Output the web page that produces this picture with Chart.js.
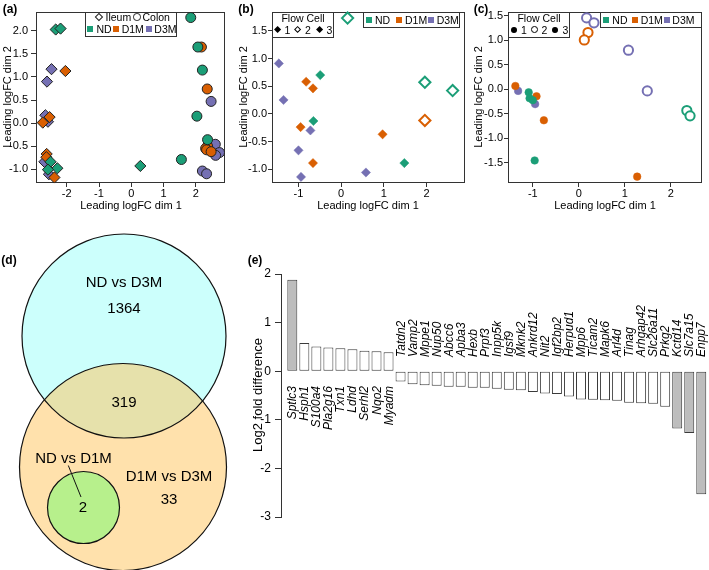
<!DOCTYPE html>
<html><head><meta charset="utf-8">
<script src="https://cdn.jsdelivr.net/npm/chart.js@4.4.1/dist/chart.umd.min.js"></script>
<style>
body{margin:0;background:#fff;width:709px;height:570px;position:relative;overflow:hidden;font-family:"Liberation Sans",Arial,sans-serif;color:#000}
canvas{position:absolute}
</style></head><body>
<canvas id="ca" width="235" height="215" style="left:0;top:0"></canvas>
<canvas id="cb" width="235" height="215" style="left:235px;top:0"></canvas>
<canvas id="cc" width="239" height="215" style="left:470px;top:0"></canvas>
<canvas id="cd" width="250" height="345" style="left:0;top:225px"></canvas>
<canvas id="ce" width="459" height="310" style="left:250px;top:260px"></canvas>
<script>
// ---------------- DATA ----------------
const GROUPS = ['ND', 'D1M', 'D3M'];
const TISSUES = ['Ileum', 'Colon'];
const FLOW_CELLS = ['1', '2', '3'];
const AXIS_X_TITLE = 'Leading logFC dim 1';
const AXIS_Y_TITLE = 'Leading logFC dim 2';

// (a) all samples: [dim1, dim2]
const A_ILEUM_ND  = [[-2.34,2.03],[-2.19,2.05],[0.28,-0.93],[-2.50,-0.84],[-2.29,-0.98],[-2.58,-1.01]];
const A_ILEUM_D1M = [[-2.04,1.13],[-2.53,0.13],[-2.74,0.01],[-2.62,-0.67],[-2.63,-0.74],[-2.38,-1.18]];
const A_ILEUM_D3M = [[-2.47,1.17],[-2.61,0.90],[-2.66,0.17],[-2.58,0.03],[-2.69,-0.84],[-2.55,-1.11]];
const A_COLON_ND  = [[1.84,2.29],[2.06,1.65],[2.20,1.15],[2.03,0.15],[2.36,-0.36],[1.55,-0.79]];
const A_COLON_D1M = [[2.17,1.65],[2.35,0.74],[2.36,-0.50],[2.30,-0.55],[2.33,-0.58],[2.47,-0.62]];
const A_COLON_D3M = [[2.47,0.47],[2.60,-0.46],[2.73,-0.64],[2.61,-0.70],[2.20,-1.04],[2.33,-1.10]];
const A_XTICKS = [-2,-1,0,1,2];          const A_XLABELS = ['-2','-1','0','1','2'];
const A_YTICKS = [-1,-0.5,0,0.5,1,1.5,2]; const A_YLABELS = ['-1.0','-0.5','0.0','0.5','1.0','1.5','2.0'];

// (b) ileum: filled = flow cells 1 & 3, open = flow cell 2
const B_ND_FILLED  = [[-0.49,0.70],[-0.65,-0.13],[1.48,-0.89]];
const B_ND_OPEN    = [[0.15,1.73],[1.96,0.57],[2.61,0.42]];
const B_D1M_FILLED = [[-0.82,0.58],[-0.66,0.46],[-0.95,-0.24],[0.97,-0.37],[-0.66,-0.89]];
const B_D1M_OPEN   = [[1.96,-0.12]];
const B_D3M_FILLED = [[-1.46,0.91],[-1.35,0.25],[-0.72,-0.30],[-1.00,-0.66],[0.58,-1.06],[-0.94,-1.14]];
const B_XTICKS = [-1,0,1,2];             const B_XLABELS = ['-1','0','1','2'];
const B_YTICKS = [-1,-0.5,0,0.5,1,1.5];  const B_YLABELS = ['-1.0','-0.5','0.0','0.5','1.0','1.5'];

// (c) colon
const C_ND_FILLED  = [[-1.09,-0.06],[-1.07,-0.18],[-1.00,-0.22],[-0.96,-1.45]];
const C_ND_OPEN    = [[2.35,-0.43],[2.42,-0.54]];
const C_D1M_FILLED = [[-1.38,0.07],[-0.92,-0.14],[-0.76,-0.63],[1.27,-1.78]];
const C_D1M_OPEN   = [[0.20,1.16],[0.12,1.01]];
const C_D3M_FILLED = [[-1.32,-0.03],[-0.95,-0.30]];
const C_D3M_OPEN   = [[0.17,1.46],[0.33,1.36],[1.08,0.80],[1.49,-0.03]];
const C_XTICKS = [-1,0,1,2];                 const C_XLABELS = ['-1','0','1','2'];
const C_YTICKS = [-1.5,-1,-0.5,0,0.5,1,1.5]; const C_YLABELS = ['-1.5','-1.0','-0.5','0.0','0.5','1.0','1.5'];

// (d) Venn
const VENN_SETS = ['ND vs D3M', 'D1M vs D3M', 'ND vs D1M'];
const VENN_COUNTS = { ndD3mOnly: '1364', shared: '319', d1mD3mOnly: '33', ndD1m: '2' };

// (e) bar chart
const GENES = ['Sptlc3','Hsph1','S100a4','Pla2g16','Txn1','Ldhd','Serhl2','Nqo2','Myadm','Tatdn2','Vamp2','Mppe1','Nup50','Abcc6','Apba3','Hexb','Prpf3','Inpp5k','Igsf9','Mknk2','Ankrd12','Nit2','Igf2bp2','Herpud1','Mpp6','Ticam2','Mapk6','Arl4d','Tinag','Arhgap42','Slc26a11','Prkg2','Kctd14','Slc7a15','Enpp7'];
const LOG2FC = [1.88,0.58,0.51,0.49,0.47,0.45,0.42,0.41,0.39,-0.21,-0.27,-0.29,-0.30,-0.32,-0.32,-0.34,-0.34,-0.36,-0.38,-0.39,-0.43,-0.46,-0.47,-0.52,-0.58,-0.59,-0.60,-0.61,-0.65,-0.66,-0.67,-0.73,-1.18,-1.27,-2.53];
const HIGHLIGHTED = ['Sptlc3','Kctd14','Slc7a15','Enpp7'];
const E_YTICKS = [-3,-2,-1,0,1,2]; const E_YLABELS = ['-3','-2','-1','0','1','2'];
const E_YTITLE = 'Log2 fold difference';

// ---------------- STYLE ----------------
const COL = { ND: '#1b9e77', D1M: '#d95f02', D3M: '#7570b3' };
const FONT = '"Liberation Sans", Arial, sans-serif';
Chart.defaults.font.family = FONT;
Chart.defaults.color = '#000';

function el(css, text) {
  const d = document.createElement('div');
  d.style.cssText = 'position:absolute;white-space:nowrap;line-height:1;' + css;
  if (text != null) d.textContent = text;
  document.body.appendChild(d); return d;
}
function label(x, y, t, s, extra = '') { return el(`left:${x}px;top:${y}px;font-size:${s}px;transform:translate(-50%,-50%);${extra}`, t); }
function labelL(x, y, t, s = 10.5, extra = '') { return el(`left:${x}px;top:${y}px;font-size:${s}px;transform:translate(0,-50%);${extra}`, t); }
function vlabel(x, y, t, s) { return el(`left:${x}px;top:${y}px;font-size:${s}px;transform:translate(-50%,-50%) rotate(-90deg);`, t); }
function box(x, y, w, h) { el(`left:${x}px;top:${y}px;width:${w}px;height:${h}px;border:1px solid #333;box-sizing:border-box;background:#fff`); }
function sq(cx, cy, s, c) { el(`left:${cx - s / 2}px;top:${cy - s / 2}px;width:${s}px;height:${s}px;background:${c}`); }
function diamond(cx, cy, s, fill, stroke, bw) { el(`left:${cx - s / 2}px;top:${cy - s / 2}px;width:${s}px;height:${s}px;background:${fill};border:${bw}px solid ${stroke};box-sizing:border-box;transform:rotate(45deg)`); }
function circ(cx, cy, d, fill, stroke, bw) { el(`left:${cx - d / 2}px;top:${cy - d / 2}px;width:${d}px;height:${d}px;background:${fill};border:${bw}px solid ${stroke};box-sizing:border-box;border-radius:50%`); }

const pts = arr => arr.map(([x, y]) => ({ x, y }));
const boxPlugin = {
  id: 'box',
  beforeDatasetsDraw(c) {
    const a = c.chartArea, ctx = c.ctx;
    ctx.save(); ctx.strokeStyle = '#333'; ctx.lineWidth = 1;
    ctx.strokeRect(Math.round(a.left) + 0.5, Math.round(a.top) + 0.5, Math.round(a.right - a.left) - 1, Math.round(a.bottom - a.top) - 1);
    ctx.restore();
  }
};

function scatter(id, datasets, xr, yr, xt, xl, yt, yl, pad) {
  return new Chart(document.getElementById(id), {
    type: 'scatter',
    data: { datasets },
    options: {
      responsive: false, animation: false, events: [],
      layout: { autoPadding: false, padding: { top: pad.top, right: pad.right, left: 0, bottom: 0 } },
      plugins: { legend: { display: false }, tooltip: { enabled: false } },
      scales: {
        x: {
          type: 'linear', min: xr[0], max: xr[1],
          afterFit: s => { s.height = pad.bottom; },
          afterBuildTicks: s => { s.ticks = xt.map(v => ({ value: v })); },
          ticks: { callback: (v, i) => xl[i], color: '#000', font: { size: 11 }, padding: 0, maxRotation: 0, autoSkip: false },
          grid: { drawOnChartArea: false, drawTicks: true, tickLength: 4, color: '#333' },
          border: { display: false }
        },
        y: {
          type: 'linear', min: yr[0], max: yr[1],
          afterFit: s => { s.width = pad.left; },
          afterBuildTicks: s => { s.ticks = yt.map(v => ({ value: v })); },
          ticks: { callback: (v, i) => yl[i], color: '#000', font: { size: 11 }, padding: pad.yPad, autoSkip: false },
          grid: { drawOnChartArea: false, drawTicks: true, tickLength: pad.yTick, color: '#333' },
          border: { display: false }
        }
      }
    },
    plugins: [boxPlugin]
  });
}

// ---------------- (a) ----------------
const dsA = [];
[['ND', A_ILEUM_ND, A_COLON_ND], ['D1M', A_ILEUM_D1M, A_COLON_D1M], ['D3M', A_ILEUM_D3M, A_COLON_D3M]].forEach(([g, il, co]) => {
  dsA.push({ data: pts(il), pointStyle: 'rectRot', pointRadius: 5.6, backgroundColor: COL[g], borderColor: '#222', borderWidth: 1, clip: false });
  dsA.push({ data: pts(co), pointStyle: 'circle', pointRadius: 5, backgroundColor: COL[g], borderColor: '#222', borderWidth: 1, clip: false });
});
scatter('ca', dsA, [-2.95, 2.9], [-1.3, 2.41], A_XTICKS, A_XLABELS, A_YTICKS, A_YLABELS, { left: 36, right: 10, top: 12, bottom: 32, yTick: 5, yPad: 3 });

// ---------------- (b) ----------------
const dsB = [];
[['ND', B_ND_FILLED, B_ND_OPEN], ['D1M', B_D1M_FILLED, B_D1M_OPEN], ['D3M', B_D3M_FILLED, []]].forEach(([g, f, o]) => {
  dsB.push({ data: pts(f), pointStyle: 'rectRot', pointRadius: 4.6, backgroundColor: COL[g], borderColor: COL[g], borderWidth: 0.5, clip: false });
  dsB.push({ data: pts(o), pointStyle: 'rectRot', pointRadius: 5.6, backgroundColor: '#fff', borderColor: COL[g], borderWidth: 2, clip: false });
});
scatter('cb', dsB, [-1.62, 2.9], [-1.25, 1.84], B_XTICKS, B_XLABELS, B_YTICKS, B_YLABELS, { left: 37, right: 5, top: 12, bottom: 32, yTick: 4, yPad: 1 });

// ---------------- (c) ----------------
const dsC = [];
[['ND', C_ND_FILLED, C_ND_OPEN], ['D1M', C_D1M_FILLED, C_D1M_OPEN], ['D3M', C_D3M_FILLED, C_D3M_OPEN]].forEach(([g, f, o]) => {
  dsC.push({ data: pts(f), pointStyle: 'circle', pointRadius: 3.8, backgroundColor: COL[g], borderColor: COL[g], borderWidth: 0.5, clip: false });
  dsC.push({ data: pts(o), pointStyle: 'circle', pointRadius: 4.6, backgroundColor: '#fff', borderColor: COL[g], borderWidth: 2, clip: false });
});
scatter('cc', dsC, [-1.54, 2.68], [-1.91, 1.58], C_XTICKS, C_XLABELS, C_YTICKS, C_YLABELS, { left: 38, right: 7, top: 12, bottom: 32, yTick: 4, yPad: 1 });

// axis titles & panel letters
[[131, 97, 7], [368, 97, 243], [605, 97, 478]].forEach(([cx, cy, yx]) => {
  label(cx, 205, AXIS_X_TITLE, 11);
  vlabel(yx, cy, AXIS_Y_TITLE, 11);
});
label(10, 9, '(a)', 12, 'font-weight:bold');
label(246, 9, '(b)', 12, 'font-weight:bold');
label(481, 9, '(c)', 12, 'font-weight:bold');
label(9, 260, '(d)', 12, 'font-weight:bold');
label(255, 260, '(e)', 12, 'font-weight:bold');

// legends (a)
box(85, 12, 92, 25);
diamond(99, 17.2, 5.9, '#fff', '#222', 1.3); labelL(105.5, 17.2, TISSUES[0]);
circ(137, 17.2, 7.5, '#fff', '#222', 1.3); labelL(142.5, 17.2, TISSUES[1]);
sq(90, 28.7, 6, COL.ND);  labelL(96.5, 28.7, GROUPS[0]);
sq(115.7, 28.7, 6, COL.D1M); labelL(121.7, 28.7, GROUPS[1]);
sq(148.7, 28.7, 6, COL.D3M); labelL(154.3, 28.7, GROUPS[2]);
// legends (b)
box(272, 12, 62, 26);
label(303, 17.5, 'Flow Cell', 10.5);
diamond(278, 29.8, 5.2, '#000', '#000', 0); labelL(284.5, 29.8, FLOW_CELLS[0]);
diamond(298, 29.8, 5.2, '#fff', '#000', 1.5); labelL(305, 29.8, FLOW_CELLS[1]);
diamond(319.7, 29.8, 5.2, '#000', '#000', 0); labelL(326.5, 29.8, FLOW_CELLS[2]);
box(363, 12, 97, 16);
sq(369, 20, 5.7, COL.ND);  labelL(375, 20, GROUPS[0]);
sq(399.2, 20, 5.7, COL.D1M); labelL(405, 20, GROUPS[1]);
sq(431, 20, 5.7, COL.D3M); labelL(436.7, 20, GROUPS[2]);
// legends (c)
box(508, 12, 62, 26);
label(539, 17.5, 'Flow Cell', 10.5);
circ(514, 29.8, 5.8, '#000', '#000', 0); labelL(521, 29.8, FLOW_CELLS[0]);
circ(534.3, 29.8, 6.8, '#fff', '#000', 1.5); labelL(541.5, 29.8, FLOW_CELLS[1]);
circ(555.3, 29.8, 5.8, '#000', '#000', 0); labelL(562.5, 29.8, FLOW_CELLS[2]);
box(600, 12, 102, 16);
sq(606, 20, 5.7, COL.ND);  labelL(612.3, 20, GROUPS[0]);
sq(635, 20, 5.7, COL.D1M); labelL(640.7, 20, GROUPS[1]);
sq(666.7, 20, 5.7, COL.D3M); labelL(672.3, 20, GROUPS[2]);

// ---------------- (d) Venn ----------------
// layout in abstract units (1 unit = 10 px on this canvas)
const VENN_LAYOUT = {
  top:    { x: 12.4, y: 33.6, rad: 10.2 },
  bottom: { x: 12.3, y: 46.7, rad: 10.35 },
  small:  { x: 8.35, y: 50.75, rad: 3.6 },
  leader: [{ x: 6.83, y: 46.55 }, { x: 8.1, y: 49.7 }]
};
const circ3 = o => ({ x: o.x, y: o.y, rad: o.rad });
const venn = new Chart(document.getElementById('cd'), {
  type: 'bubble',
  data: {
    datasets: [
      { label: VENN_SETS[0], data: [circ3(VENN_LAYOUT.top)], backgroundColor: 'rgb(204,255,252)', borderWidth: 0, order: 5, clip: false },
      { label: VENN_SETS[1], data: [circ3(VENN_LAYOUT.bottom)], backgroundColor: 'rgba(255,195,89,0.5)', borderWidth: 0, order: 4, clip: false },
      { data: [circ3(VENN_LAYOUT.top), circ3(VENN_LAYOUT.bottom)], backgroundColor: 'rgba(0,0,0,0)', borderColor: '#111', borderWidth: 1.2, order: 3, clip: false },
      { label: VENN_SETS[2], data: [circ3(VENN_LAYOUT.small)], backgroundColor: 'rgb(183,240,140)', borderColor: '#111', borderWidth: 1.2, order: 2, clip: false },
      { type: 'line', data: VENN_LAYOUT.leader, borderColor: '#111', borderWidth: 1, pointRadius: 0, order: 1, clip: false }
    ]
  },
  options: {
    responsive: false, animation: false, events: [],
    layout: { autoPadding: false, padding: 0 },
    plugins: { legend: { display: false }, tooltip: { enabled: false } },
    scales: {
      x: { type: 'linear', min: 0, max: 25, display: false },
      y: { type: 'linear', min: 22.5, max: 57, reverse: true, display: false }
    }
  }
});
// convert layout radius to pixel radius through the chart's own x scale, then redraw
(function () {
  const s = venn.scales.x;
  venn.data.datasets.forEach(ds => ds.data.forEach(d => {
    if (d.rad !== undefined) d.r = s.getPixelForValue(d.rad) - s.getPixelForValue(0);
  }));
  venn.update('none');
})();
label(124, 281, VENN_SETS[0], 15);
label(124, 307, VENN_COUNTS.ndD3mOnly, 15);
label(124, 401, VENN_COUNTS.shared, 15);
label(73.5, 457, VENN_SETS[2], 15);
label(169, 475, VENN_SETS[1], 15);
label(169, 498, VENN_COUNTS.d1mD3mOnly, 15);
label(83, 506, VENN_COUNTS.ndD1m, 15);

// ---------------- (e) bars ----------------
const eChart = new Chart(document.getElementById('ce'), {
  type: 'bar',
  data: {
    datasets: [{
      data: GENES.map((g, i) => ({ x: i, y: LOG2FC[i] })),
      backgroundColor: GENES.map(g => HIGHLIGHTED.includes(g) ? '#bdbdbd' : '#ffffff'),
      borderColor: '#3a3a3a', borderWidth: 1, borderSkipped: false,
      barPercentage: 0.83, categoryPercentage: 1
    }]
  },
  options: {
    responsive: false, animation: false, events: [],
    layout: { autoPadding: false, padding: { top: 14, right: 1, left: 0, bottom: 53 } },
    plugins: { legend: { display: false }, tooltip: { enabled: false } },
    scales: {
      x: { type: 'linear', offset: false, min: -0.94, max: 34.56, display: false },
      y: {
        type: 'linear', min: -3, max: 2,
        afterFit: s => { s.width = 31; },
        afterBuildTicks: s => { s.ticks = E_YTICKS.map(v => ({ value: v })); },
        ticks: { callback: (v, i) => E_YLABELS[i], color: '#000', font: { size: 12 }, padding: 4, autoSkip: false },
        grid: { drawOnChartArea: false, drawTicks: true, tickLength: 6, color: '#333' },
        border: { display: true, color: '#333', width: 1 }
      }
    }
  }
});
vlabel(257, 395, E_YTITLE, 13);
(function () {
  const xs = eChart.scales.x, ys = eChart.scales.y, y0 = ys.getPixelForValue(0);
  GENES.forEach((g, i) => {
    const x = 250 + xs.getPixelForValue(i);
    const v = LOG2FC[i];
    if (v >= 0) {
      el(`left:${x}px;top:${260 + y0 + 15}px;font-size:12px;font-style:italic;transform-origin:0 0;transform:rotate(-90deg) translate(-100%,-50%);`, g);
    } else {
      el(`left:${x}px;top:${260 + y0 - 14}px;font-size:12px;font-style:italic;transform-origin:0 0;transform:rotate(-90deg) translate(0,-50%);`, g);
    }
  });
})();
</script>
</body></html>
